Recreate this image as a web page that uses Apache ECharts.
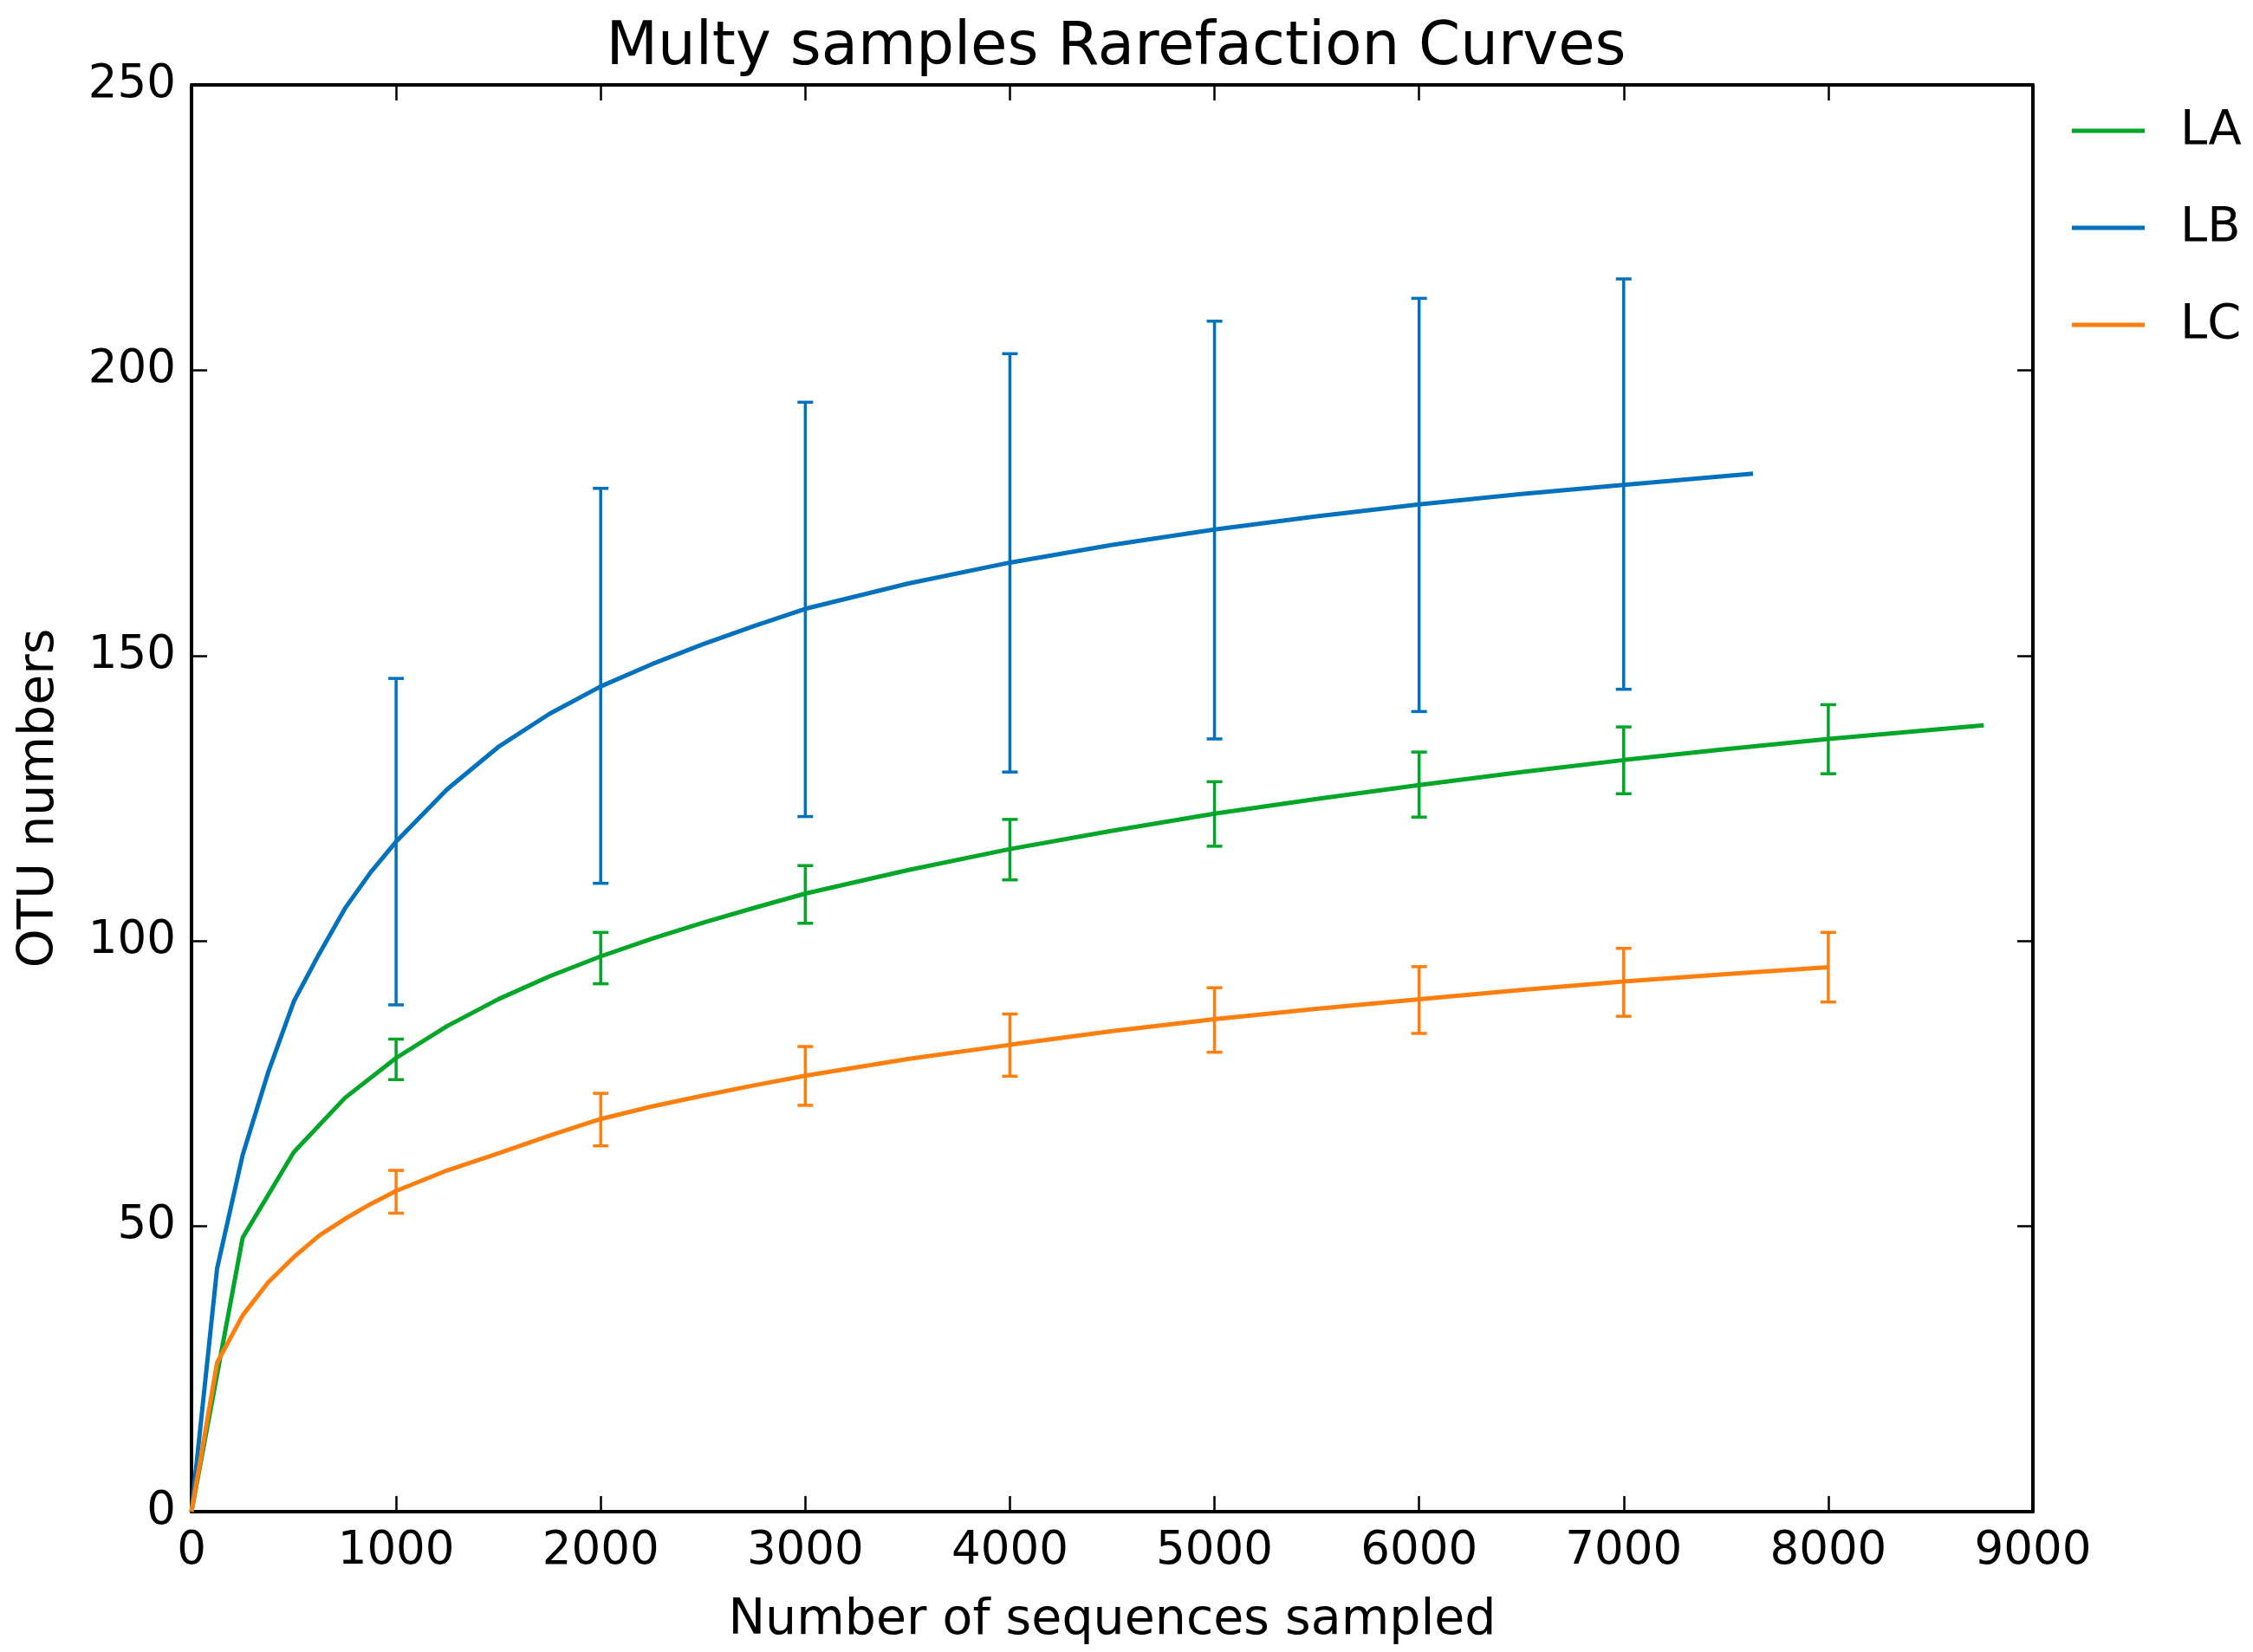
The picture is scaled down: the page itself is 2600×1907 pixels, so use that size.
<!DOCTYPE html>
<html>
<head>
<meta charset="utf-8">
<title>Multy samples Rarefaction Curves</title>
<script src="https://cdn.jsdelivr.net/npm/echarts@6/dist/echarts.min.js"></script>
<style>
  html, body { margin: 0; padding: 0; background: #fff; }
  #chart { width: 2600px; height: 1907px; }
</style>
</head>
<body>
<div id="chart"></div>
<script>
// rarefaction curves (sequences sampled -> OTU numbers)
var laDepth = [0, 250, 500, 750, 1000, 1250, 1500, 1750, 2000, 2250, 2500, 2750, 3000, 3500, 4000, 4500, 5000, 5500, 6000, 6500, 7000, 7500, 8000, 8760];
var laOtu = [0, 48.0, 63.0, 72.5, 79.5, 85.1, 89.8, 93.8, 97.3, 100.4, 103.2, 105.8, 108.3, 112.4, 116.1, 119.3, 122.3, 124.9, 127.3, 129.6, 131.7, 133.6, 135.4, 137.8];

var lbDepth = [0, 125, 250, 375, 500, 625, 750, 875, 1000, 1250, 1500, 1750, 2000, 2250, 2500, 2750, 3000, 3500, 4000, 4500, 5000, 5500, 6000, 6500, 7000, 7632];
var lbOtu = [0, 42.6, 62.5, 77.0, 89.4, 97.8, 105.7, 112.0, 117.4, 126.6, 134.0, 139.8, 144.6, 148.5, 152.0, 155.2, 158.2, 162.6, 166.3, 169.4, 172.1, 174.4, 176.5, 178.3, 179.9, 181.9];

var lcDepth = [0, 125, 250, 375, 500, 625, 750, 875, 1000, 1250, 1500, 1750, 2000, 2250, 2500, 2750, 3000, 3500, 4000, 4500, 5000, 5500, 6000, 6500, 7000, 7500, 8000];
var lcOtu = [0, 26.1, 34.4, 40.2, 44.6, 48.4, 51.3, 53.9, 56.2, 59.8, 62.8, 65.9, 68.8, 71.0, 72.9, 74.7, 76.4, 79.3, 81.8, 84.2, 86.3, 88.1, 89.8, 91.4, 92.9, 94.2, 95.4];

// error bars
var errDepth = [1000, 2000, 3000, 4000, 5000, 6000, 7000, 8000];
var laLow = [75.7, 92.5, 103.1, 110.7, 116.6, 121.7, 125.8, 129.3];
var laHigh = [82.8, 101.5, 113.2, 121.3, 127.9, 133.1, 137.5, 141.4];
var lbLow = [88.8, 110.1, 121.8, 129.6, 135.4, 140.2, 144.1];
var lbHigh = [146.0, 179.3, 194.4, 202.9, 208.6, 212.6, 216.0];
var lcLow = [52.3, 64.1, 71.2, 76.3, 80.5, 83.8, 86.8, 89.3];
var lcHigh = [59.8, 73.3, 81.5, 87.2, 91.8, 95.5, 98.7, 101.5];

var xTicks = [0, 1000, 2000, 3000, 4000, 5000, 6000, 7000, 8000, 9000];
var yTicks = [0, 50, 100, 150, 200, 250];

var sampleNames = ['LA', 'LB', 'LC'];
var colors = {LA: '#00a628', LB: '#0072bd', LC: '#ff7f0e'};

var FONT = '"DejaVu Sans", sans-serif';

function pairs(xs, ys) {
    var out = [];
    for (var i = 0; i < ys.length; i++) {
        out.push([xs[i], ys[i]]);
    }
    return out;
}

function errData(lo, hi) {
    var out = [];
    for (var i = 0; i < lo.length; i++) {
        out.push([errDepth[i], lo[i], hi[i]]);
    }
    return out;
}

function lineSeries(name, xs, ys) {
    return {
        name: name,
        type: 'line',
        data: pairs(xs, ys),
        showSymbol: false,
        symbol: 'none',
        smooth: false,
        color: colors[name],
        lineStyle: {color: colors[name], width: 5},
        z: 3,
        silent: true
    };
}

function errSeries(name, lo, hi) {
    var c = colors[name];
    return {
        name: name + ' err',
        type: 'custom',
        data: errData(lo, hi),
        encode: {x: 0, y: [1, 2]},
        z: 4,
        silent: true,
        renderItem: function (params, api) {
            var x = api.value(0);
            var p1 = api.coord([x, api.value(1)]);
            var p2 = api.coord([x, api.value(2)]);
            var w = 9;
            var st = {stroke: c, lineWidth: 3.5, fill: null};
            return {
                type: 'group',
                children: [
                    {type: 'line', shape: {x1: p1[0], y1: p1[1], x2: p2[0], y2: p2[1]}, style: st},
                    {type: 'line', shape: {x1: p1[0] - w, y1: p1[1], x2: p1[0] + w, y2: p1[1]}, style: st},
                    {type: 'line', shape: {x1: p2[0] - w, y1: p2[1], x2: p2[0] + w, y2: p2[1]}, style: st}
                ]
            };
        }
    };
}

var tickStyle = {show: true, inside: true, length: 18, lineStyle: {color: '#000', width: 2.5}};
var axisLineStyle = {show: true, onZero: false, lineStyle: {color: '#000', width: 4}};
var labelFont = {fontFamily: FONT, fontSize: 53, color: '#000'};

var chart = echarts.init(document.getElementById('chart'));

var option = {
    backgroundColor: '#fff',
    animation: false,
    title: {
        text: 'Multy samples Rarefaction Curves',
        left: 1283,
        textAlign: 'center',
        top: 17,
        textStyle: {fontFamily: FONT, fontSize: 69, fontWeight: 'normal', color: '#000'}
    },
    legend: {
        data: sampleNames,
        orient: 'vertical',
        left: 2386,
        top: 118,
        icon: 'rect',
        itemWidth: 84,
        itemHeight: 5,
        itemGap: 56,
        selectedMode: false,
        textStyle: {fontFamily: FONT, fontSize: 56, color: '#000', lineHeight: 56, padding: [0, 0, 0, 36]}
    },
    grid: {
        left: 221,
        right: 254,
        top: 98,
        bottom: 162,
        containLabel: false,
        show: false
    },
    xAxis: [{
        type: 'value',
        position: 'bottom',
        min: 0,
        max: 9000,
        interval: 1000,
        name: 'Number of sequences sampled',
        nameLocation: 'middle',
        nameGap: 98,
        nameTextStyle: {fontFamily: FONT, fontSize: 57, color: '#000'},
        axisLine: axisLineStyle,
        axisTick: tickStyle,
        axisLabel: Object.assign({margin: 20, formatter: function (v) { return xTicks.indexOf(v) >= 0 ? String(v) : ''; }}, labelFont),
        splitLine: {show: false}
    }, {
        type: 'value',
        position: 'top',
        min: 0,
        max: 9000,
        interval: 1000,
        axisLine: axisLineStyle,
        axisTick: tickStyle,
        axisLabel: {show: false},
        splitLine: {show: false}
    }],
    yAxis: [{
        type: 'value',
        position: 'left',
        min: 0,
        max: 250,
        interval: 50,
        name: 'OTU numbers',
        nameLocation: 'middle',
        nameGap: 146,
        nameTextStyle: {fontFamily: FONT, fontSize: 57, color: '#000'},
        axisLine: axisLineStyle,
        axisTick: tickStyle,
        axisLabel: Object.assign({margin: 18, formatter: function (v) { return yTicks.indexOf(v) >= 0 ? String(v) : ''; }}, labelFont),
        splitLine: {show: false}
    }, {
        type: 'value',
        position: 'right',
        min: 0,
        max: 250,
        interval: 50,
        axisLine: axisLineStyle,
        axisTick: tickStyle,
        axisLabel: {show: false},
        splitLine: {show: false}
    }],
    series: [
        lineSeries('LA', laDepth, laOtu),
        lineSeries('LB', lbDepth, lbOtu),
        lineSeries('LC', lcDepth, lcOtu),
        errSeries('LA', laLow, laHigh),
        errSeries('LB', lbLow, lbHigh),
        errSeries('LC', lcLow, lcHigh)
    ]
};

chart.setOption(option);
</script>
</body>
</html>
